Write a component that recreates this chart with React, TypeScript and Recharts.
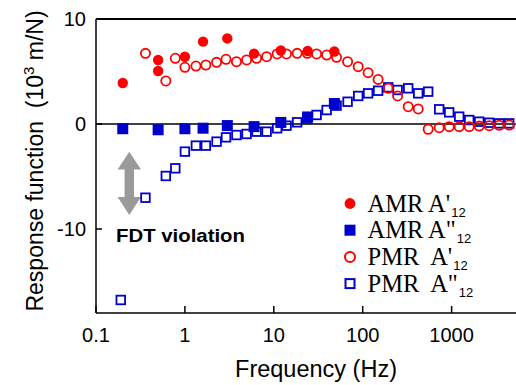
import { ScatterChart, Scatter, XAxis, YAxis, ReferenceLine } from "recharts";

const SANS = "Arial, 'Liberation Sans', Helvetica, sans-serif";
const SERIF = "'Times New Roman', 'Liberation Serif', serif";
const RED = "#ff0000";
const BLUE = "#0000cc";

// frequencies in Hz, response in 10^3 m/N
const amrRealFreq = [0.2, 0.5, 0.5, 1, 1.6, 3, 6, 12, 24, 48];
const amrReal = [3.9, 6.1, 5.05, 6.4, 7.85, 8.15, 6.7, 7.0, 6.95, 6.9];

const amrImagFreq = [0.2, 0.5, 1, 1.6, 3, 6, 12, 24, 48];
const amrImag = [-0.45, -0.55, -0.45, -0.4, -0.15, -0.25, 0.15, 0.67, 1.95];

const pmrRealFreq = [
  0.36, 0.61, 0.78, 1.0, 1.33, 1.72, 2.27, 2.9, 3.8, 4.94, 6.4, 8.3, 10.9, 13.9, 18.3, 23.8, 30.3, 39.3,
  50.8, 67.6, 89, 115, 149, 194, 247, 325, 421, 545, 725, 939, 1217, 1577, 2043, 2648, 3430, 4446,
];
const pmrReal = [
  6.73, 4.1, 6.26, 5.4, 5.52, 5.62, 5.87, 6.16, 5.93, 6.1, 6.26, 6.41, 6.67, 6.67, 6.73, 6.73, 6.67, 6.57,
  6.35, 5.93, 5.46, 4.89, 4.25, 3.4, 2.67, 1.65, 1.43, -0.5, -0.35, -0.25, -0.25, -0.25, -0.2, -0.16, -0.12, -0.1,
];

const pmrImagFreq = [
  0.19, 0.36, 0.61, 0.78, 1.0, 1.33, 1.72, 2.27, 2.9, 3.8, 4.94, 6.4, 8.3, 10.9, 13.9, 18.3, 23.8, 30.3, 39.3,
  50.8, 67.6, 89, 115, 149, 194, 247, 325, 421, 545, 725, 939, 1217, 1577, 2043, 2648, 3430, 4446,
];
const pmrImag = [
  -16.76, -7.02, -4.95, -4.22, -2.63, -2.06, -2.06, -1.68, -1.27, -1.05, -0.95, -0.73, -0.73, -0.41, -0.16, 0.16,
  0.5, 0.86, 1.33, 1.75, 2.12, 2.67, 2.92, 3.17, 3.49, 3.24, 3.4, 2.92, 3.08, 1.4, 1.11, 0.7, 0.38, 0.22, 0.12,
  0.06, 0.06,
];

const xTicks = [0.1, 1, 10, 100, 1000];
const yTicks = [-10, 0, 10];

const legendRows = [
  { label: "AMR A'", kind: "dot" },
  { label: 'AMR A"', kind: "box" },
  { label: "PMR  A'", kind: "ring" },
  { label: 'PMR  A"', kind: "frame" },
];

const toPoints = (freq: number[], vals: number[]) => freq.map((f, i) => ({ f, v: vals[i] }));

const Dot = (p: any) => <circle cx={p.cx} cy={p.cy} r={5.2} fill={RED} />;
const Ring = (p: any) => <circle cx={p.cx} cy={p.cy} r={4.6} fill="none" stroke={RED} strokeWidth={1.8} />;
const Box = (p: any) => <rect x={p.cx - 5.5} y={p.cy - 5.5} width={11} height={11} fill={BLUE} />;
const Frame = (p: any) => (
  <rect x={p.cx - 4.3} y={p.cy - 4.3} width={8.6} height={8.6} fill="none" stroke={BLUE} strokeWidth={1.8} />
);

export default function App() {
  return (
    <div style={{ position: "absolute", left: 0, top: 0, width: 516, height: 385, background: "#fff" }}>
      <ScatterChart width={516} height={385} margin={{ top: 19, right: 0, bottom: 0, left: 0 }}>
        <XAxis
          type="number"
          dataKey="f"
          scale="log"
          domain={[0.1, 5300]}
          ticks={xTicks}
          interval={0}
          allowDataOverflow
          height={72}
          tickSize={-7}
          tickMargin={22}
          axisLine={{ stroke: "#000", strokeWidth: 1.5 }}
          tickLine={{ stroke: "#000", strokeWidth: 1.5 }}
          tick={{ fill: "#000", fontSize: 20, fontFamily: SANS }}
        />
        <YAxis
          type="number"
          dataKey="v"
          domain={[-18, 10]}
          ticks={yTicks}
          interval={0}
          allowDataOverflow
          width={96}
          tickSize={-6}
          tickMargin={16}
          axisLine={{ stroke: "#000", strokeWidth: 1.5 }}
          tickLine={{ stroke: "#000", strokeWidth: 1.5 }}
          tick={{ fill: "#000", fontSize: 20, fontFamily: SANS }}
        />
        <ReferenceLine y={10} stroke="#000" strokeWidth={2} />
        <ReferenceLine y={0} stroke="#000" strokeWidth={1.5} />
        <Scatter data={toPoints(pmrImagFreq, pmrImag)} shape={Frame} isAnimationActive={false} />
        <Scatter data={toPoints(pmrRealFreq, pmrReal)} shape={Ring} isAnimationActive={false} />
        <Scatter data={toPoints(amrImagFreq, amrImag)} shape={Box} isAnimationActive={false} />
        <Scatter data={toPoints(amrRealFreq, amrReal)} shape={Dot} isAnimationActive={false} />

        {/* axis titles */}
        <text x={316} y={377} textAnchor="middle" fontSize={23.5} fontFamily={SANS} fill="#000">
          Frequency (Hz)
        </text>
        <text
          transform="translate(43 161) rotate(-90)"
          textAnchor="middle"
          fontSize={23}
          fontFamily={SANS}
          fill="#000"
          style={{ whiteSpace: "pre" }}
        >
          {"Response function  (10"}
          <tspan fontSize={15} dy={-9}>3</tspan>
          <tspan dy={9}>{" m/N)"}</tspan>
        </text>

        {/* FDT annotation */}
        <path
          d="M129.3 151.7 L141 169.5 L134 169.5 L134 197 L141 197 L129.3 215 L117.6 197 L124.6 197 L124.6 169.5 L117.6 169.5 Z"
          fill="#9a9a9a"
        />
        <text x={116} y={241.7} fontSize={19} fontWeight="bold" fontFamily={SANS} fill="#000" textLength={129} lengthAdjust="spacingAndGlyphs">
          FDT violation
        </text>

        {/* legend */}
        {legendRows.map((row, i) => {
          const cy = 203.5 + i * 26.7;
          return (
            <g key={row.label}>
              {row.kind === "dot" && <circle cx={350} cy={cy} r={5.4} fill={RED} />}
              {row.kind === "box" && <rect x={344.5} y={cy - 5.5} width={11} height={11} fill={BLUE} />}
              {row.kind === "ring" && <circle cx={350} cy={cy} r={5} fill="none" stroke={RED} strokeWidth={2} />}
              {row.kind === "frame" && (
                <rect x={345.5} y={cy - 4.5} width={9} height={9} fill="none" stroke={BLUE} strokeWidth={2} />
              )}
              <text x={367.5} y={cy + 8} fontSize={24.5} fontFamily={SERIF} fill="#000" style={{ whiteSpace: "pre" }}>
                {row.label}
                <tspan fontSize={13} fontFamily={SANS} dx={1} dy={5}>12</tspan>
              </text>
            </g>
          );
        })}
      </ScatterChart>
    </div>
  );
}
